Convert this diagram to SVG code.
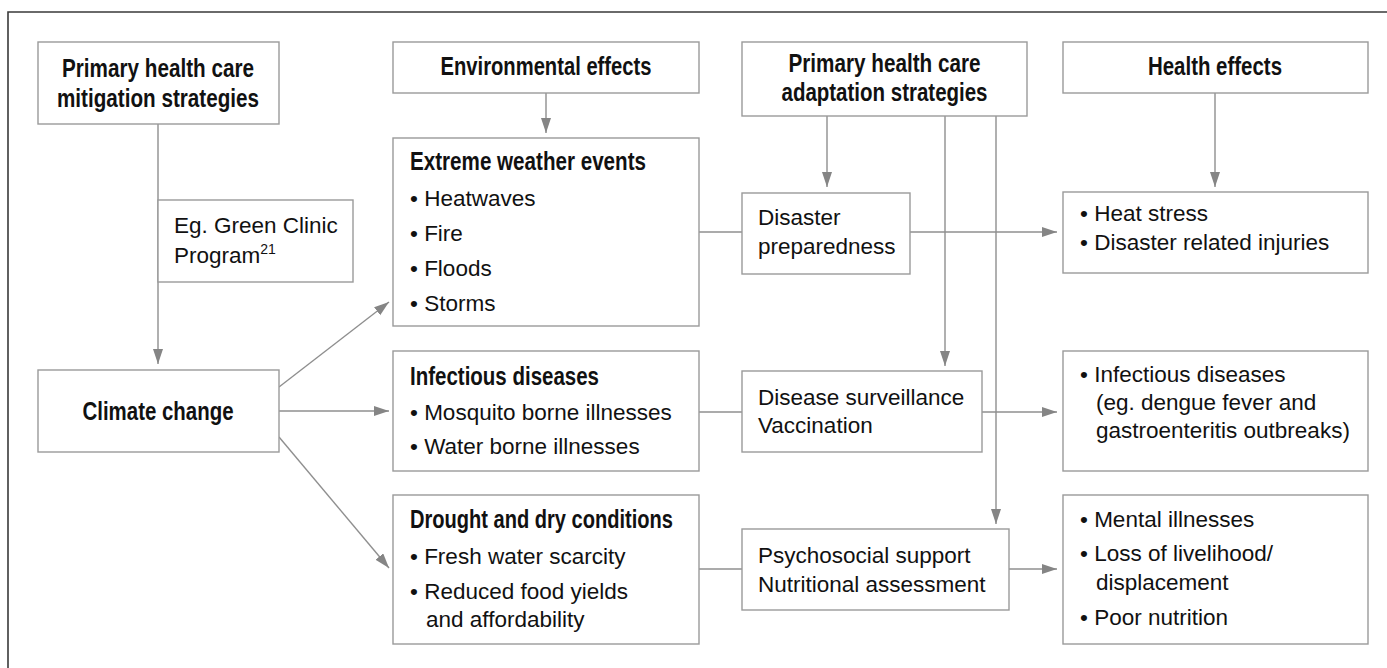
<svg xmlns="http://www.w3.org/2000/svg" width="1387" height="668" viewBox="0 0 1387 668">
  <style>
    .box { fill: #ffffff; stroke: #9a9a9a; stroke-width: 1.4; }
    .frame { fill: none; stroke: #3a3a3a; stroke-width: 1.6; }
    .link { fill: none; stroke: #8f8f8f; stroke-width: 1.4; }
    .arrow { marker-end: url(#head); }
    .hd { font-family: "Liberation Sans", Arial, sans-serif; font-weight: bold; font-size: 25px; fill: #111111; }
    .tx { font-family: "Liberation Sans", Arial, sans-serif; font-size: 22.5px; fill: #111111; }
    .mid { text-anchor: middle; }
  </style>
  <defs>
    <marker id="head" markerUnits="userSpaceOnUse" markerWidth="16" markerHeight="11" refX="15" refY="5" orient="auto">
      <path d="M0,0 L15,5 L0,10 Z" fill="#858585"/>
    </marker>
  </defs>

  <rect width="1387" height="668" fill="#ffffff"/>
  <!-- outer frame: top and left edges -->
  <path class="frame" d="M8,668 L8,12 L1387,12"/>

  <!-- connectors -->
  <g id="connectors">
    <line class="link arrow" x1="158" y1="124" x2="158" y2="364"/>
    <line class="link arrow" x1="546" y1="93" x2="546" y2="133"/>
    <line class="link arrow" x1="279" y1="387" x2="389" y2="302"/>
    <line class="link arrow" x1="279" y1="411" x2="389" y2="411"/>
    <line class="link arrow" x1="279" y1="437" x2="389" y2="568"/>
    <line class="link arrow" x1="827" y1="116" x2="827" y2="187"/>
    <line class="link arrow" x1="945" y1="116" x2="945" y2="366"/>
    <line class="link arrow" x1="996" y1="116" x2="996" y2="524"/>
    <line class="link arrow" x1="1215" y1="93" x2="1215" y2="187"/>
    <line class="link" x1="699" y1="232" x2="742" y2="232"/>
    <line class="link arrow" x1="910" y1="232" x2="1057" y2="232"/>
    <line class="link" x1="699" y1="412" x2="742" y2="412"/>
    <line class="link arrow" x1="982" y1="412" x2="1057" y2="412"/>
    <line class="link" x1="699" y1="569" x2="742" y2="569"/>
    <line class="link arrow" x1="1009" y1="569" x2="1057" y2="569"/>
  </g>

  <g id="mitigation">
    <rect class="box" x="38" y="42" width="241" height="82"/>
    <text class="hd mid" x="158" y="77" textLength="192" lengthAdjust="spacingAndGlyphs">Primary health care</text>
    <text class="hd mid" x="158" y="107" textLength="202" lengthAdjust="spacingAndGlyphs">mitigation strategies</text>
  </g>

  <g id="green-clinic">
    <rect class="box" x="158" y="200" width="195" height="82"/>
    <text class="tx" x="174" y="233">Eg. Green Clinic</text>
    <text class="tx" x="174" y="263">Program<tspan font-size="14" dy="-9">21</tspan></text>
  </g>

  <g id="climate-change">
    <rect class="box" x="38" y="370" width="241" height="82"/>
    <text class="hd mid" x="158" y="420" textLength="151" lengthAdjust="spacingAndGlyphs">Climate change</text>
  </g>

  <g id="environmental-effects">
    <rect class="box" x="393" y="42" width="306" height="51"/>
    <text class="hd mid" x="546" y="75" textLength="211" lengthAdjust="spacingAndGlyphs">Environmental effects</text>
  </g>

  <g id="extreme-weather">
    <rect class="box" x="393" y="138" width="306" height="188"/>
    <text class="hd" x="410" y="170" textLength="236" lengthAdjust="spacingAndGlyphs">Extreme weather events</text>
    <text class="tx" x="410" y="206">• Heatwaves</text>
    <text class="tx" x="410" y="241">• Fire</text>
    <text class="tx" x="410" y="276">• Floods</text>
    <text class="tx" x="410" y="311">• Storms</text>
  </g>

  <g id="infectious-diseases">
    <rect class="box" x="393" y="351" width="306" height="120"/>
    <text class="hd" x="410" y="385" textLength="189" lengthAdjust="spacingAndGlyphs">Infectious diseases</text>
    <text class="tx" x="410" y="420">• Mosquito borne illnesses</text>
    <text class="tx" x="410" y="454">• Water borne illnesses</text>
  </g>

  <g id="drought">
    <rect class="box" x="393" y="495" width="306" height="149"/>
    <text class="hd" x="410" y="528" textLength="263" lengthAdjust="spacingAndGlyphs">Drought and dry conditions</text>
    <text class="tx" x="410" y="564">• Fresh water scarcity</text>
    <text class="tx" x="410" y="599">• Reduced food yields</text>
    <text class="tx" x="426" y="627">and affordability</text>
  </g>

  <g id="adaptation">
    <rect class="box" x="742" y="42" width="285" height="74"/>
    <text class="hd mid" x="884.5" y="72" textLength="192" lengthAdjust="spacingAndGlyphs">Primary health care</text>
    <text class="hd mid" x="884.5" y="101" textLength="206" lengthAdjust="spacingAndGlyphs">adaptation strategies</text>
  </g>

  <g id="disaster-preparedness">
    <rect class="box" x="742" y="193" width="168" height="81"/>
    <text class="tx" x="758" y="225">Disaster</text>
    <text class="tx" x="758" y="254">preparedness</text>
  </g>

  <g id="surveillance">
    <rect class="box" x="742" y="371" width="240" height="81"/>
    <text class="tx" x="758" y="405">Disease surveillance</text>
    <text class="tx" x="758" y="433">Vaccination</text>
  </g>

  <g id="psychosocial">
    <rect class="box" x="742" y="529" width="267" height="81"/>
    <text class="tx" x="758" y="563">Psychosocial support</text>
    <text class="tx" x="758" y="592">Nutritional assessment</text>
  </g>

  <g id="health-effects">
    <rect class="box" x="1063" y="42" width="305" height="51"/>
    <text class="hd mid" x="1215" y="75" textLength="134" lengthAdjust="spacingAndGlyphs">Health effects</text>
  </g>

  <g id="heat-stress">
    <rect class="box" x="1063" y="192" width="305" height="81"/>
    <text class="tx" x="1080" y="221">• Heat stress</text>
    <text class="tx" x="1080" y="250">• Disaster related injuries</text>
  </g>

  <g id="infectious-outcomes">
    <rect class="box" x="1063" y="351" width="305" height="120"/>
    <text class="tx" x="1080" y="382">• Infectious diseases</text>
    <text class="tx" x="1096" y="410">(eg. dengue fever and</text>
    <text class="tx" x="1096" y="438">gastroenteritis outbreaks)</text>
  </g>

  <g id="mental-outcomes">
    <rect class="box" x="1063" y="495" width="305" height="149"/>
    <text class="tx" x="1080" y="527">• Mental illnesses</text>
    <text class="tx" x="1080" y="561">• Loss of livelihood/</text>
    <text class="tx" x="1096" y="590">displacement</text>
    <text class="tx" x="1080" y="625">• Poor nutrition</text>
  </g>
</svg>
